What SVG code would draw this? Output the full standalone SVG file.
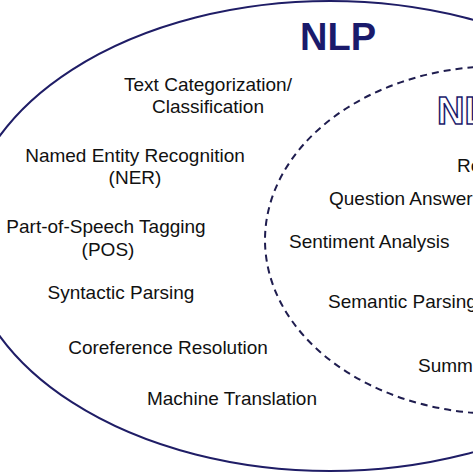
<svg xmlns="http://www.w3.org/2000/svg" width="473" height="473" viewBox="0 0 473 473">
<style>
.lbl{font-family:"Liberation Sans",Arial,sans-serif;font-size:19px;fill:#111}
.mid{text-anchor:middle}
.title{font-family:"Liberation Sans",Arial,sans-serif;font-weight:bold;font-size:38px}
</style>
<rect width="473" height="473" fill="#fff"/>
<g id="nlp">
<ellipse cx="330" cy="236" rx="365" ry="235" fill="none" stroke="#1f1d66" stroke-width="2"/>
<text class="title" x="338" y="50" text-anchor="middle" fill="#1a1a6b">NLP</text>
</g>
<g id="nlu">
<ellipse cx="500" cy="240" rx="235" ry="174" fill="none" stroke="#1f1d4f" stroke-width="2" stroke-dasharray="7 5"/>
<text class="title" x="437" y="124" fill="#fff" stroke="#1a1a6b" stroke-width="1.5">NL</text>
</g>
<g id="nlp-tasks">
<text class="lbl mid" x="208" y="91">Text Categorization/</text>
<text class="lbl mid" x="208" y="113">Classification</text>
<text class="lbl mid" x="135" y="162">Named Entity Recognition</text>
<text class="lbl mid" x="135" y="184">(NER)</text>
<text class="lbl mid" x="106" y="233">Part-of-Speech Tagging</text>
<text class="lbl mid" x="108" y="256">(POS)</text>
<text class="lbl mid" x="121" y="299">Syntactic Parsing</text>
<text class="lbl mid" x="168" y="354">Coreference Resolution</text>
<text class="lbl mid" x="232" y="405">Machine Translation</text>
</g>
<g id="nlu-tasks">
<text class="lbl" x="457" y="172">Re</text>
<text class="lbl" x="329" y="205">Question Answer</text>
<text class="lbl" x="289" y="248">Sentiment Analysis</text>
<text class="lbl" x="328" y="308">Semantic Parsing</text>
<text class="lbl" x="418" y="372">Summ</text>
</g>
<g id="connectors"></g>
</svg>
